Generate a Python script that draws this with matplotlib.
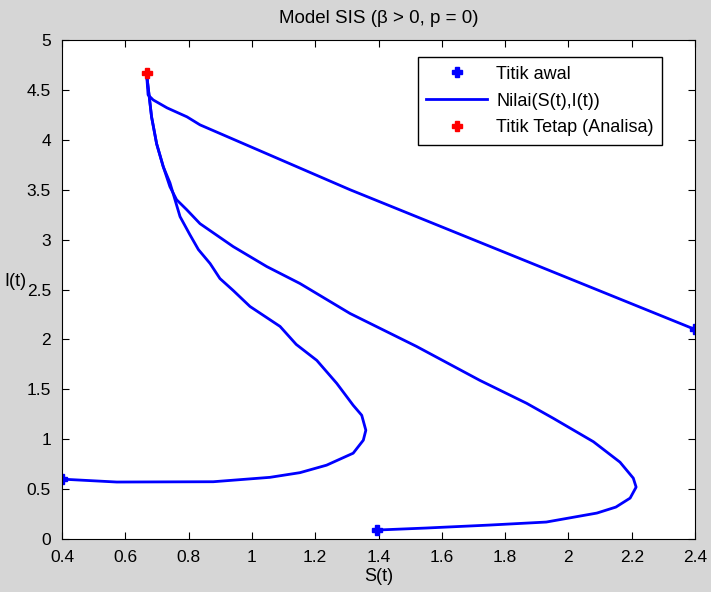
import numpy as np
import matplotlib.pyplot as plt

plt.rcParams['font.family'] = ['Liberation Sans', 'DejaVu Sans']

# fixed point from analysis
s_fix, i_fix = 0.667, 4.67

# trajectory 1: starting at (2.4, 2.1)
s1 = [2.4, 1.31, 0.836, 0.795, 0.732, 0.688, 0.672, 0.667]
i1 = [2.1, 3.50, 4.15, 4.23, 4.32, 4.40, 4.45, 4.67]

# trajectory 2: starting at (1.4, 0.1)
s2 = [1.396, 1.55, 1.752, 1.93, 2.09, 2.15, 2.195, 2.214, 2.205, 2.163, 2.079,
      1.952, 1.868, 1.72, 1.52, 1.31, 1.152, 1.047, 0.941, 0.836, 0.794,
      0.762, 0.741, 0.72, 0.699, 0.683, 0.667]
i2 = [0.09, 0.11, 0.14, 0.17, 0.26, 0.32, 0.41, 0.52, 0.61, 0.77, 0.975,
      1.21, 1.36, 1.59, 1.93, 2.26, 2.56, 2.73, 2.93, 3.16, 3.30,
      3.40, 3.53, 3.73, 3.96, 4.23, 4.67]

# trajectory 3: starting at (0.4, 0.6)
s3 = [0.4, 0.573, 0.878, 1.057, 1.152, 1.236, 1.32, 1.352, 1.36, 1.347, 1.32,
      1.268, 1.205, 1.14, 1.089, 0.994, 0.941, 0.899, 0.868, 0.831, 0.804,
      0.773, 0.757, 0.741, 0.72, 0.699, 0.683, 0.667]
i3 = [0.6, 0.571, 0.574, 0.618, 0.665, 0.74, 0.86, 0.99, 1.09, 1.24, 1.34,
      1.56, 1.79, 1.95, 2.13, 2.33, 2.49, 2.61, 2.76, 2.90, 3.05,
      3.23, 3.40, 3.57, 3.73, 3.96, 4.23, 4.67]

start_s = [s1[0], s2[0], s3[0]]
start_i = [i1[0], i2[0], i3[0]]

fig = plt.figure(figsize=(7.11, 5.92), dpi=100, facecolor='#d6d6d6')
ax = fig.add_axes([0.0872, 0.0895, 0.8903, 0.8429])

ax.plot(start_s, start_i, 'P', color='blue', markersize=7, label='Titik awal')
ax.plot(s1, i1, '-', color='blue', lw=2, label='Nilai(S(t),I(t))')
ax.plot(s2, i2, '-', color='blue', lw=2)
ax.plot(s3, i3, '-', color='blue', lw=2)
ax.plot([s_fix], [i_fix], 'P', color='red', markersize=7,
        label='Titik Tetap (Analisa)')

ax.set_xlim(0.4, 2.4)
ax.set_ylim(0, 5)
ax.set_xticks(np.arange(0.4, 2.41, 0.2))
ax.set_xticklabels(['0.4', '0.6', '0.8', '1', '1.2', '1.4', '1.6', '1.8', '2', '2.2', '2.4'])
ax.set_yticks(np.arange(0, 5.01, 0.5))
ax.set_yticklabels(['0', '0.5', '1', '1.5', '2', '2.5', '3', '3.5', '4', '4.5', '5'])
ax.tick_params(direction='in', top=True, right=True, labelsize=12.5, length=5)
ax.tick_params(axis='x', pad=8)
ax.tick_params(axis='y', pad=8)

ax.set_title('Model SIS (β > 0, p = 0)', fontsize=13.5, pad=12)
ax.set_xlabel('S(t)', fontsize=13, labelpad=2)
ax.set_ylabel('I(t)', fontsize=13, rotation=0, labelpad=8)

leg = ax.legend(loc='upper right', bbox_to_anchor=(0.948, 0.965), fontsize=13,
                fancybox=False, edgecolor='black', framealpha=1,
                handlelength=3.4, handletextpad=0.5, borderpad=0.45,
                labelspacing=0.55, borderaxespad=0)
leg.get_frame().set_linewidth(1)

fig.savefig('out.png', dpi=100, facecolor=fig.get_facecolor())
